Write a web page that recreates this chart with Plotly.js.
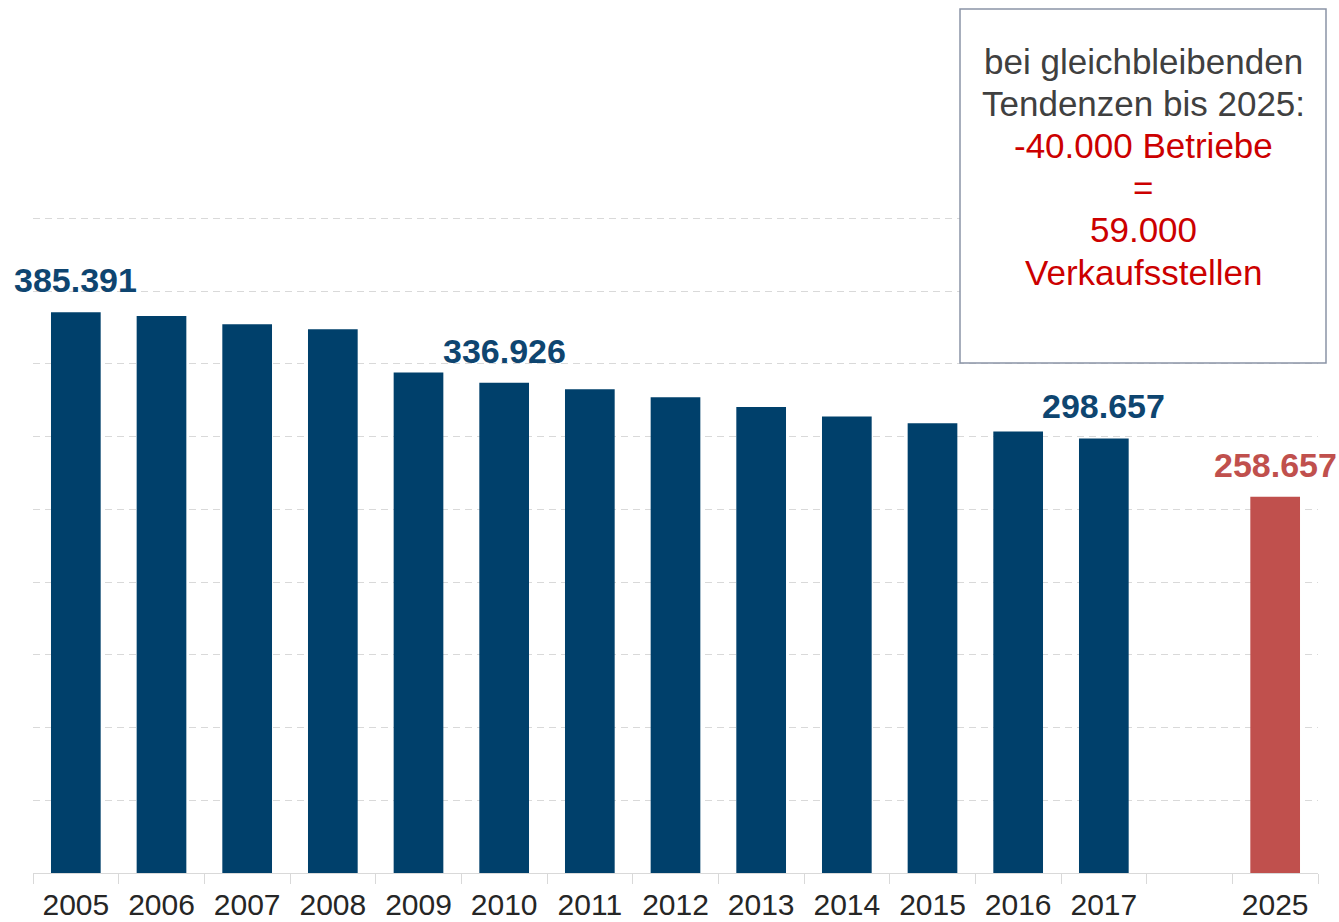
<!DOCTYPE html>
<html>
<head>
<meta charset="utf-8">
<script src="https://cdn.plot.ly/plotly-3.0.1.min.js"></script>
<style>
html,body{margin:0;padding:0;background:#ffffff;}
#chart{width:1339px;height:922px;}
</style>
</head>
<body>
<div id="chart"></div>
<script>
// ---- data ----
const years = ['2005','2006','2007','2008','2009','2010','2011','2012','2013','2014','2015','2016','2017'];
const betriebe = [385391, 382900, 377200, 373700, 344000, 336926, 332500, 327000, 320200, 313700, 309100, 303400, 298657];
const gapCategory = [' '];
const forecastYears = ['2025'];
const forecastValues = [258657];
const labelledYears = ['2005', '2010', '2017', '2025'];
const boxLines = ['bei gleichbleibenden', 'Tendenzen bis 2025:', '-40.000 Betriebe', '=', '59.000', 'Verkaufsstellen'];
const boxLineIsRed = [false, false, true, true, true, true];

// ---- styling ----
const BLUE = '#00406B';
const RED = '#C0504D';
const BLUE_LABEL = '#0E4570';
const TEXT_GRAY = '#404040';
const TEXT_RED = '#CC0000';
const GRID = '#d9d9d9';
const FONT = 'Liberation Sans, Arial, sans-serif';

const W = 1339, H = 922;
const M = {l: 33, r: 21, t: 214, b: 49};
const plotW = W - M.l - M.r, plotH = H - M.t - M.b;
const PX_PER_50K = 72.75;
const yMax = 50000 * plotH / PX_PER_50K;
const px2x = p => (p - M.l) / plotW;
const px2y = p => (H - M.b - p) / plotH;

const fmt = v => String(v).replace(/\B(?=(\d{3})+(?!\d))/g, '.');

const xCats = years.concat(gapCategory, forecastYears);
const yVals = betriebe.concat([null], forecastValues);
const colors = years.map(() => BLUE).concat([BLUE], forecastYears.map(() => RED));

const trace = {
  type: 'bar',
  x: xCats,
  y: yVals,
  marker: {color: colors, line: {width: 0}},
  hoverinfo: 'x+y'
};

const annotations = labelledYears.map(yr => {
  const idx = xCats.indexOf(yr);
  return {
    xref: 'x', yref: 'y',
    x: idx, y: yVals[idx],
    text: fmt(yVals[idx]),
    showarrow: false,
    xanchor: 'center', yanchor: 'bottom',
    yshift: 11,
    font: {family: FONT, size: 34, color: forecastYears.includes(yr) ? RED : BLUE_LABEL, weight: 'bold'}
  };
});

const lineTop = 61, lineStep = 42.2;
boxLines.forEach((t, i) => {
  annotations.push({
    xref: 'paper', yref: 'paper',
    x: px2x(1143), y: px2y(lineTop + i * lineStep),
    text: t, showarrow: false,
    xanchor: 'center', yanchor: 'middle',
    font: {family: FONT, size: 35, color: boxLineIsRed[i] ? TEXT_RED : TEXT_GRAY}
  });
});

const layout = {
  width: W, height: H,
  margin: M,
  paper_bgcolor: '#ffffff',
  plot_bgcolor: '#ffffff',
  showlegend: false,
  bargap: 0.42,
  xaxis: {
    type: 'category',
    categoryorder: 'array',
    categoryarray: xCats,
    range: [-0.5, xCats.length - 0.5],
    autorange: false,
    tickson: 'boundaries',
    ticks: 'outside', ticklen: 10, tickcolor: GRID, tickwidth: 1,
    showline: true, linecolor: GRID, linewidth: 1,
    showgrid: false,
    tickangle: 0,
    ticklabelstandoff: 5,
    tickfont: {family: FONT, size: 30, color: '#262626'},
    fixedrange: true
  },
  yaxis: {
    range: [0, yMax],
    autorange: false,
    tick0: 0, dtick: 50000,
    showgrid: true, gridcolor: GRID, gridwidth: 1, griddash: '7px,5px',
    zeroline: false,
    showticklabels: false,
    ticks: '',
    fixedrange: true
  },
  shapes: [{
    type: 'rect', xref: 'paper', yref: 'paper', layer: 'above',
    x0: px2x(960), x1: px2x(1326), y0: px2y(363), y1: px2y(9),
    fillcolor: '#ffffff',
    line: {color: '#8A94A6', width: 1.5}
  }],
  annotations: annotations
};

Plotly.newPlot('chart', [trace], layout, {displayModeBar: false, staticPlot: true});
</script>
</body>
</html>
